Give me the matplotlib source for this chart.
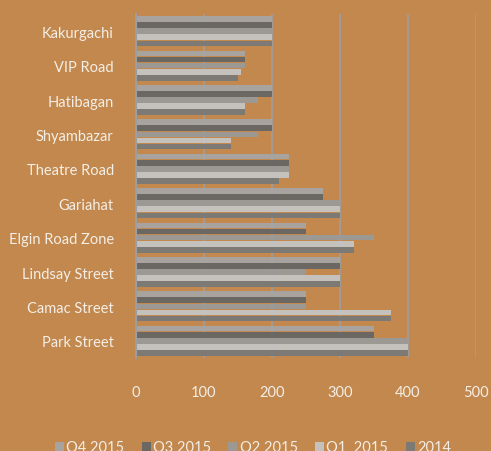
import matplotlib
matplotlib.use("Agg")
import matplotlib.pyplot as plt
import numpy as np

categories = ["Kakurgachi", "VIP Road", "Hatibagan", "Shyambazar", "Theatre Road",
              "Gariahat", "Elgin Road Zone", "Lindsay Street", "Camac Street", "Park Street"]
series_names = ["Q4 2015", "Q3 2015", "Q2 2015", "Q1  2015", "2014"]
q4_2015 = [200, 160, 200, 200, 225, 275, 250, 300, 250, 350]
q3_2015 = [200, 160, 200, 200, 225, 275, 250, 300, 250, 350]
q2_2015 = [200, 160, 180, 180, 225, 300, 350, 250, 250, 400]
q1_2015 = [200, 155, 160, 140, 225, 300, 320, 300, 375, 400]
y2014 = [200, 150, 160, 140, 210, 300, 320, 300, 375, 400]
x_ticks = [0, 100, 200, 300, 400, 500]

series = [q4_2015, q3_2015, q2_2015, q1_2015, y2014]
colors = ["#A6A6A6", "#656565", "#9A9A9A", "#C6C6C6", "#787878"]

bg = "#C2884E"
txt = "#F4EEE6"
plt.rcParams['font.family'] = ['Lato', 'DejaVu Sans']

fig = plt.figure(figsize=(4.91, 4.52), dpi=100, facecolor=bg)
ax = fig.add_axes([136/491, 1-359/452, 340/491, 344/452])
ax.set_facecolor(bg)

pitch = 0.178
h = 0.165
y = np.arange(len(categories))
for i, (vals, c, name) in enumerate(zip(series, colors, series_names)):
    ax.barh(y + (i - 2) * pitch, vals, height=h, color=c, label=name, zorder=2, alpha=0.93)

ax.set_ylim(len(categories) - 0.5, -0.5)
ax.set_xlim(0, 500)
ax.set_xticks(x_ticks)
ax.set_xticklabels([str(t) for t in x_ticks])
ax.set_yticks(y)
ax.set_yticklabels(categories)
ax.tick_params(axis='both', length=0, labelcolor=txt, labelsize=10.5)
ax.tick_params(axis='x', pad=19.5)
ax.tick_params(axis='y', pad=16)
ax.grid(axis='x', color="#9C9EA2", linewidth=1.2, zorder=1)
ax.set_axisbelow(True)
for s in ['top', 'right', 'bottom']:
    ax.spines[s].set_visible(False)
ax.spines['left'].set_color("#9C9EA2")
ax.spines['left'].set_linewidth(1.5)

handles, labels = ax.get_legend_handles_labels()
leg = fig.legend(handles, labels, loc='center', bbox_to_anchor=(0.515, 1-448.5/452), ncol=5,
                 frameon=False, fontsize=10.5, labelcolor=txt, handlelength=0.62, handleheight=0.62,
                 handletextpad=0.15, columnspacing=1.2, borderpad=0)

fig.savefig("out.png", dpi=100, facecolor=bg)
